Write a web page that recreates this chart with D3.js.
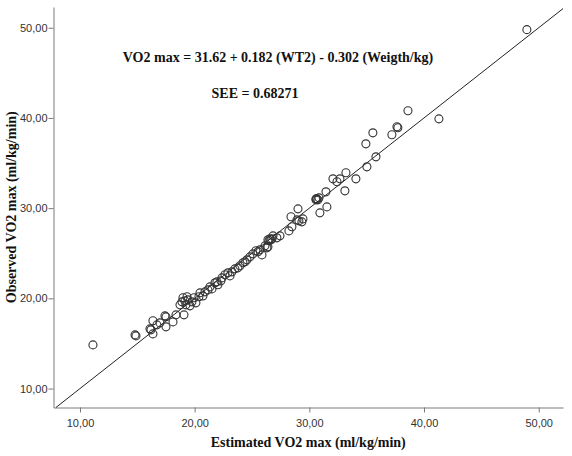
<!DOCTYPE html>
<html lang="en">
<head>
    <meta charset="UTF-8">
    <title>Observed vs Estimated VO2 max</title>
    <script src="https://d3js.org/d3.v7.min.js"></script>
    <style>
        body{ margin:0; background:#fff; }
        g.axis text{ font-family:"Liberation Sans", Arial, sans-serif; font-size:11px; fill:#333; }
        g.axis path, g.axis line{ stroke:#7a7a7a; }
        .title{ font-family:"Liberation Serif", "Times New Roman", serif; font-weight:bold; font-size:14px; fill:#111; }
    </style>
</head>
<body>
<svg width="572" height="456"></svg>
<script>
    // estimated (x) and observed (y) VO2 max
    const estimated = [11.13,14.80,14.88,16.10,16.19,16.36,16.36,16.71,16.97,17.41,17.50,17.50,18.11,18.37,19.07,
        18.72,18.89,19.15,19.24,19.42,19.59,19.76,19.94,20.11,20.37,20.46,20.90,21.16,21.33,21.77,21.94,22.03,
        22.38,22.64,22.90,23.25,23.51,23.77,23.95,24.21,24.56,24.82,25.08,25.34,25.69,25.87,26.30,26.39,26.56,
        26.65,26.39,26.83,27.17,27.44,28.22,28.48,28.40,29.01,28.92,29.09,29.44,30.58,30.66,30.84,30.75,30.92,
        31.53,31.45,32.06,32.41,32.67,33.19,33.10,34.06,35.02,35.81,34.93,35.54,37.20,37.64,37.72,38.60,41.30,
        48.97,18.98,19.33,20.72,21.51,22.29,23.08,24.39,25.52,26.13,26.48,26.74,29.35,30.58];
    const observed = [14.84,15.95,15.84,16.62,16.51,17.51,16.06,17.06,17.28,18.06,17.95,16.84,17.39,18.17,18.17,
        19.28,19.61,19.72,19.28,19.83,19.17,19.61,20.06,19.50,20.17,20.61,20.72,20.94,21.27,21.72,21.83,21.50,
        22.27,22.61,22.83,22.94,23.27,23.38,23.61,23.94,24.27,24.60,24.93,25.27,25.38,24.82,25.60,26.49,26.60,
        26.49,25.71,26.93,26.71,26.93,27.48,27.93,29.04,29.92,28.70,28.59,28.81,30.92,31.03,31.14,30.92,29.48,
        30.14,31.81,33.25,32.92,33.25,33.92,31.92,33.25,34.58,35.69,37.13,38.35,38.13,39.02,38.91,40.80,39.90,
        49.79,20.06,20.17,20.27,21.05,21.94,22.49,24.05,25.16,25.82,26.38,26.60,28.48,31.03];
    const xTicks = [10,20,30,40,50];
    const yTicks = [10,20,30,40,50];
    const equationText = "VO2 max = 31.62 + 0.182 (WT2) - 0.302 (Weigth/kg)";
    const seeText = "SEE = 0.68271";

    let svg = d3.select('svg');
    const mLeft = 53.5, mRight = 563, mTop = 7, mBottom = 407.5;

    let xScale = d3.scaleLinear().domain([7.69, 52.12]).range([mLeft, mRight]);
    let yScale = d3.scaleLinear().domain([7.9, 52.3]).range([mBottom, mTop]);

    const fmt = d => d3.format(".2f")(d).replace(".", ",");

    svg.append("g")
        .attr("class", "axis")
        .attr("transform", `translate(0,${mBottom})`)
        .call(d3.axisBottom(xScale).tickValues(xTicks).tickFormat(fmt).tickSize(5).tickSizeOuter(0))
        .call(g => g.selectAll("text").attr("dy", "1.05em"));
    svg.append("g")
        .attr("class", "axis")
        .attr("transform", `translate(${mLeft},0)`)
        .call(d3.axisLeft(yScale).tickValues(yTicks).tickFormat(fmt).tickSize(5).tickSizeOuter(0))
        .call(g => g.selectAll("text").attr("x", -6));

    // identity line, clipped to the plot area
    const lo = Math.max(xScale.domain()[0], yScale.domain()[0]);
    const hi = Math.min(xScale.domain()[1], yScale.domain()[1]);
    svg.append("line")
        .attr("x1", xScale(lo)).attr("y1", yScale(lo))
        .attr("x2", xScale(hi)).attr("y2", yScale(hi))
        .attr("stroke", "#222").attr("stroke-width", 1);

    svg.append("g").selectAll("circle")
        .data(estimated.map((e, i) => [e, observed[i]]))
        .join("circle")
        .attr("cx", d => xScale(d[0]))
        .attr("cy", d => yScale(d[1]))
        .attr("r", 4)
        .attr("fill", "none")
        .attr("stroke", "#333")
        .attr("stroke-width", 1.1);

    svg.append("text").attr("class", "title")
        .attr("x", 278).attr("y", 62).attr("text-anchor", "middle")
        .text(equationText);
    svg.append("text").attr("class", "title")
        .attr("x", 255).attr("y", 98).attr("text-anchor", "middle")
        .text(seeText);

    svg.append("text").attr("class", "title")
        .attr("x", (mLeft + mRight) / 2).attr("y", 447).attr("text-anchor", "middle")
        .text("Estimated VO2 max (ml/kg/min)");
    svg.append("text").attr("class", "title")
        .attr("transform", `translate(16,${(mTop + mBottom) / 2}) rotate(-90)`)
        .attr("text-anchor", "middle")
        .text("Observed VO2 max (ml/kg/min)");
</script>
</body>
</html>
